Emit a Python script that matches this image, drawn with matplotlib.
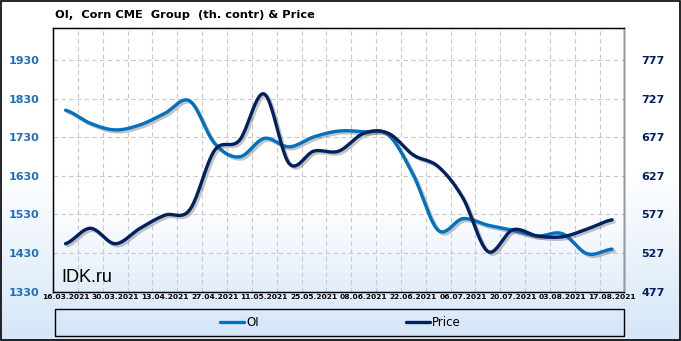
import numpy as np
import matplotlib.pyplot as plt
import matplotlib.patheffects as pe
from matplotlib.colors import LinearSegmentedColormap
from matplotlib.lines import Line2D
from matplotlib.patches import Rectangle

# данные (недельные)
dates = ["16.03.2021", "23.03.2021", "30.03.2021", "06.04.2021", "13.04.2021",
         "20.04.2021", "27.04.2021", "04.05.2021", "11.05.2021", "18.05.2021",
         "25.05.2021", "01.06.2021", "08.06.2021", "15.06.2021", "22.06.2021",
         "29.06.2021", "06.07.2021", "13.07.2021", "20.07.2021", "27.07.2021",
         "03.08.2021", "10.08.2021", "17.08.2021"]
oi = [1800, 1766, 1749, 1762, 1792, 1824, 1714, 1679, 1727, 1705, 1731, 1746,
      1744, 1736, 1632, 1489, 1519, 1502, 1489, 1474, 1480, 1428, 1440]
price = [539, 559, 539, 559, 576, 583, 660, 673, 733, 643, 659, 659,
         682, 682, 654, 639, 598, 529, 557, 549, 548, 558, 570]

left_ticks = [1330, 1430, 1530, 1630, 1730, 1830, 1930]
right_ticks = [477, 527, 577, 627, 677, 727, 777]

c_oi = "#0070C0"
c_price = "#002060"


def smooth(y, n=24):
    # сглаживание как в Excel (Catmull-Rom)
    y = np.asarray(y, float)
    p = np.concatenate([[y[0]], y, [y[-1]]])
    xs, ys = [], []
    for i in range(len(y) - 1):
        t = np.linspace(0, 1, n, endpoint=False)
        p0, p1, p2, p3 = p[i], p[i + 1], p[i + 2], p[i + 3]
        yy = 0.5 * (2 * p1 + (-p0 + p2) * t + (2 * p0 - 5 * p1 + 4 * p2 - p3) * t ** 2
                    + (-p0 + 3 * p1 - 3 * p2 + p3) * t ** 3)
        xs.append(i + t)
        ys.append(yy)
    xs.append([len(y) - 1])
    ys.append([y[-1]])
    return np.concatenate(xs), np.concatenate(ys)


fig = plt.figure(figsize=(6.81, 3.41), dpi=100)

# фон с градиентом
bg = fig.add_axes([0, 0, 1, 1], zorder=-10)
cmap = LinearSegmentedColormap.from_list("bg", ["#ffffff", "#ffffff", "#d5e6f8"])
bg.imshow(np.linspace(0, 1, 256).reshape(-1, 1), aspect="auto", cmap=cmap,
          extent=[0, 1, 0, 1])
bg.set_xlim(0, 1)
bg.set_ylim(0, 1)
bg.axis("off")
bg.add_patch(Rectangle((0.001, 0.002), 0.997, 0.995, fill=False, edgecolor="black", lw=1.2))

ax = fig.add_axes([0.078, 0.145, 0.839, 0.774])
ax.set_facecolor("none")
pcmap = LinearSegmentedColormap.from_list("pl", ["#ffffff", "#ffffff", "#ffffff", "#e3eefb"])
ax.imshow(np.linspace(0, 1, 256).reshape(-1, 1), aspect="auto", cmap=pcmap,
          extent=[0, 1, 0, 1], transform=ax.transAxes, zorder=0)

n = len(dates)
ax.set_xlim(-0.5, n - 0.5)
ax.set_ylim(1330, 2014)
ax.set_yticks(left_ticks)
ax.set_yticklabels([str(v) for v in left_ticks], color="#1F6FB8", fontsize=8, fontweight="bold")
ax.set_xticks(range(0, n, 2))
ax.set_xticklabels(dates[::2], fontsize=5.4, fontweight="bold")
ax.tick_params(length=0, pad=2)
ax.tick_params(axis="y", pad=10)

for k in range(n - 1):
    ax.axvline(k + 0.5, color="#c8c8c8", lw=0.8, ls=(0, (4, 3)), zorder=1)
for v in left_ticks[1:]:
    ax.axhline(v, color="#c8c8c8", lw=0.8, ls=(0, (4, 3)), zorder=1)

for s in ax.spines.values():
    s.set_color("black")
    s.set_linewidth(1)

shadow = [pe.SimpleLineShadow(offset=(1.5, -1.5), shadow_color="#555555", alpha=0.35),
          pe.Normal()]

xs, ys = smooth(oi)
ax.plot(xs, ys, color=c_oi, lw=2.4, solid_capstyle="round", zorder=3, path_effects=shadow)

ax2 = ax.twinx()
ax2.set_ylim(477, 819)
ax2.set_yticks(right_ticks)
ax2.set_yticklabels([str(v) for v in right_ticks], color=c_price, fontsize=8, fontweight="bold")
ax2.tick_params(length=0, pad=12)
ax2.spines["right"].set_color("#999999")
xs, ys = smooth(price)
ax2.plot(xs, ys, color=c_price, lw=2.4, solid_capstyle="round", zorder=3, path_effects=shadow)

ax.text(0.015, 0.035, "IDK.ru", transform=ax.transAxes, fontsize=13,
        family="Liberation Sans", color="black", zorder=5)

fig.text(0.081, 0.955, "OI,  Corn CME  Group  (th. contr) & Price", fontsize=8.2,
         fontweight="bold", va="center", ha="left")

# легенда
fig.add_artist(Rectangle((0.081, 0.015), 0.836, 0.08, transform=fig.transFigure,
                         fill=False, edgecolor="black", lw=1))
handles = [Line2D([], [], color=c_oi, lw=2.4, solid_capstyle="round"),
           Line2D([], [], color=c_price, lw=2.4, solid_capstyle="round")]
fig.legend(handles, ["OI", "Price"], loc="center", bbox_to_anchor=(0.5, 0.055), ncol=2,
           frameon=False, fontsize=8.5, handlelength=2.0, handletextpad=0.2,
           columnspacing=12.5)

plt.savefig("out.png", dpi=100)
